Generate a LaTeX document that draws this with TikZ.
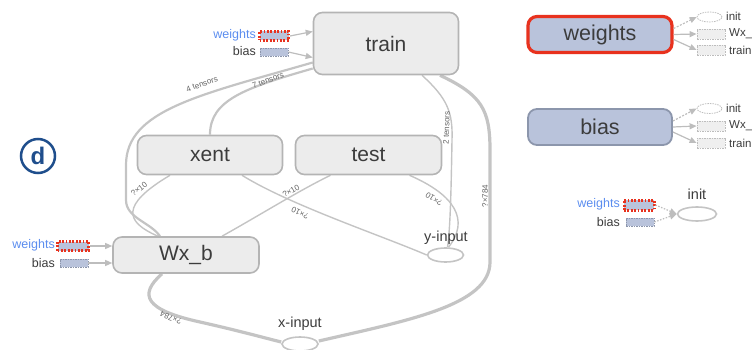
\documentclass[tikz,border=0pt]{standalone}
\usepackage{fontspec}
\setmainfont{Liberation Sans}
\usetikzlibrary{shapes.geometric,arrows.meta,backgrounds}
\definecolor{nodefill}{HTML}{ECECEC}
\definecolor{nodeline}{HTML}{B4B4B4}
\definecolor{edgec}{HTML}{C4C4C4}
\definecolor{txt}{HTML}{3C3C3C}
\definecolor{varfill}{HTML}{B9C3DB}
\definecolor{varline}{HTML}{8C96AC}
\definecolor{redc}{HTML}{E8321E}
\definecolor{bluetxt}{HTML}{5B8DEF}
\definecolor{dblue}{HTML}{1F4E8C}
\definecolor{ghost}{HTML}{BDBDBD}
\definecolor{ghostfill}{HTML}{EFEFEF}
\begin{document}
\begin{tikzpicture}[x=1pt,y=-1pt,
  opnode/.style={draw=nodeline, fill=nodefill, line width=1.6pt, rounded corners=9pt,
    text=txt, font=\fontsize{21}{24}\selectfont, inner sep=0pt},
  varnode/.style={fill=varfill, rounded corners=9pt, minimum width=144pt, minimum height=36pt,
    text=txt, font=\fontsize{21.5}{24}\selectfont, inner sep=0pt},
  ioell/.style={ellipse, draw=edgec, line width=1.6pt, fill=white, inner sep=0pt},
  iolabel/.style={text=txt, font=\fontsize{14.5}{16}\selectfont, inner sep=0pt},
  elabel/.style={text=txt!80, font=\fontsize{8}{9}\selectfont, inner sep=0pt},
  thinedge/.style={draw=edgec, line width=1.4pt},
  midedge/.style={draw=edgec, line width=2.2pt},
  thickedge/.style={draw=edgec, line width=3.2pt},
  redvar/.style={fill=varfill, draw=redc, line width=3pt, dash pattern=on 1.8pt off 1.6pt,
    minimum width=29pt, minimum height=9pt, inner sep=0pt},
  bluevar/.style={fill=varfill, draw=varline, line width=0.8pt, dash pattern=on 1.5pt off 1pt,
    minimum width=28pt, minimum height=8pt, inner sep=0pt},
  wtext/.style={text=bluetxt, font=\fontsize{12.5}{14}\selectfont, inner sep=0pt, anchor=east},
  btext/.style={text=txt, font=\fontsize{12.5}{14}\selectfont, inner sep=0pt, anchor=east},
  inarrow/.style={draw=ghost, line width=1.2pt, -{Triangle[length=7pt,width=6pt]}},
  smallrect/.style={draw=ghost, fill=ghostfill, line width=0.8pt, dash pattern=on 1.5pt off 1pt,
    minimum width=28pt, minimum height=10pt, inner sep=0pt},
  smallell/.style={ellipse, draw=ghost, line width=0.8pt, dash pattern=on 1.5pt off 1pt,
    minimum width=25pt, minimum height=10pt, inner sep=0pt},
  smalltext/.style={text=txt, font=\fontsize{11.5}{13}\selectfont, inner sep=0pt, anchor=west},
]
\useasboundingbox (0,0) rectangle (752,350);

% ---- main graph nodes ----
\node[opnode, minimum width=145pt, minimum height=62pt] (train) at (386,43.5) {train};
\node[opnode, minimum width=145pt, minimum height=39pt] (xent) at (210,155) {xent};
\node[opnode, minimum width=146pt, minimum height=39pt] (test) at (368.5,155) {test};
\node[opnode, minimum width=146pt, minimum height=36pt] (wxb) at (186,255) {Wx\_b};
\node[ioell, minimum width=36pt, minimum height=14pt] (yin) at (445.5,255) {};
\node[ioell, minimum width=36pt, minimum height=14pt] (xin) at (300,344) {};
\node[iolabel] (yinl) at (446,238) {y-input};
\node[iolabel] (xinl) at (300,324) {x-input};

% ---- edges behind the nodes ----
\begin{scope}[on background layer]
\draw[midedge] ([yshift=-19pt]train.west) .. controls (200,95) and (126,110) .. (126,165)
   -- (126,200) .. controls (126,218) and (150,222) .. ([xshift=-26pt]wxb.north);
\draw[midedge] ([yshift=-25pt]train.west) .. controls (245,88) and (210,100) .. (xent.north);
\draw[thinedge] ([xshift=-40pt]xent.south) .. controls (120,205) and (125,222) .. ([xshift=-28pt]wxb.north);
\draw[thinedge] ([xshift=36pt]wxb.north) .. controls (260,215) and (300,190) .. ([xshift=-38pt]test.south);
\draw[thinedge] ([xshift=32pt]xent.south) .. controls (290,205) and (380,235) .. (yin.west);
\draw[thinedge] ([xshift=41pt]test.south) .. controls (455,195) and (470,220) .. ([xshift=3pt]yin.north);
\draw[thinedge] ([xshift=36pt]train.south) .. controls (447,98) and (453,112) .. (452,140)
   .. controls (451,200) and (450,230) .. ([xshift=2pt]yin.north);
\draw[thickedge] ([xshift=54pt]train.south) .. controls (482,95) and (490,110) .. (490,150)
   -- (490,262) .. controls (490,305) and (410,320) .. ([yshift=3pt]xin.east);
\draw[thickedge] ([xshift=-24pt]wxb.south) .. controls (138,295) and (145,310) .. (200,322)
   .. controls (240,331) and (265,338) .. ([yshift=2pt]xin.west);
\end{scope}

% edge labels
\node[elabel, rotate=20] (l4t) at (202,84) {4 tensors};
\node[elabel, rotate=21] (l7t) at (268,80) {7 tensors};
\node[elabel, rotate=88] (l2t) at (446.5,128) {2 tensors};
\node[elabel, rotate=90] (l784r) at (485,196) {?×784};
\node[elabel, rotate=38] (l10a) at (139,189) {?×10};
\node[elabel, rotate=30] (l10b) at (291,191) {?×10};
\node[elabel, rotate=155] (l10c) at (300,213) {?×10};
\node[elabel, rotate=147] (l10d) at (434,199) {?×10};
\node[elabel, rotate=158] (l784l) at (171,318) {?×784};

% inputs to train
\node[redvar] (tw) at (274,36) {};
\node[bluevar] (tb) at (274,52) {};
\node[wtext] (twl) at (256,35.5) {weights};
\node[btext] (tbl) at (256,51.5) {bias};
\draw[inarrow] (tw.east) -- ([yshift=12pt]train.west);
\draw[inarrow] (tb.east) -- ([yshift=-14pt]train.west);

% inputs to Wx_b
\node[redvar, minimum width=31pt] (ww) at (73,246) {};
\node[bluevar] (wb) at (74,263) {};
\node[wtext] (wwl) at (55,245.5) {weights};
\node[btext] (wbl) at (55,263) {bias};
\draw[inarrow] (ww.east) -- ([yshift=9pt]wxb.west);
\draw[inarrow] (wb.east) -- ([yshift=-8pt]wxb.west);

% d marker
\node[circle, draw=dblue, line width=2.5pt, minimum size=34pt, inner sep=0pt, text=dblue,
  font=\fontsize{24}{24}\selectfont\bfseries] (dmark) at (38,156) {d};

% right: weights variable
\node[varnode, draw=redc, line width=3.2pt] (wvar) at (600,34.5) {weights};
\node[smallell] (wvi) at (709.5,17) {};
\node[smallrect] (wvw) at (711,34) {};
\node[smallrect] (wvt) at (711,50) {};
\node[smalltext] (wvil) at (726,16.5) {init};
\node[smalltext] (wvwl) at (729,34) {Wx\_};
\node[smalltext] (wvtl) at (729,50) {train};
\draw[inarrow, dash pattern=on 2pt off 1.5pt] ([yshift=6pt]wvar.east) -- (wvi.west);
\draw[inarrow] (wvar.east) -- (wvw.west);
\draw[inarrow] ([yshift=-5pt]wvar.east) -- (wvt.west);

% right: bias variable
\node[varnode, draw=varline, line width=1.8pt] (bvar) at (600,127) {bias};
\node[smallell] (bvi) at (709.5,108.5) {};
\node[smallrect] (bvw) at (711,126) {};
\node[smallrect] (bvt) at (711,143) {};
\node[smalltext] (bvil) at (726,108) {init};
\node[smalltext] (bvwl) at (729,126) {Wx\_};
\node[smalltext] (bvtl) at (729,143) {train};
\draw[inarrow, dash pattern=on 2pt off 1.5pt] ([yshift=6pt]bvar.east) -- (bvi.west);
\draw[inarrow] (bvar.east) -- (bvw.west);
\draw[inarrow] ([yshift=-5pt]bvar.east) -- (bvt.west);

% right: init
\node[ioell, minimum width=39pt, minimum height=14pt] (init) at (697,214) {};
\node[iolabel] (initl) at (697,194) {init};
\node[redvar, minimum width=30pt, minimum height=10pt] (iw) at (639,205) {};
\node[bluevar] (ib) at (640,222) {};
\node[wtext] (iwl) at (620,204.5) {weights};
\node[btext] (ibl) at (620,222) {bias};
\draw[inarrow, dash pattern=on 1.5pt off 1.5pt] (iw.east) -- (init.west);
\draw[inarrow, dash pattern=on 1.5pt off 1.5pt] (ib.east) -- (init.west);
\end{tikzpicture}
\end{document}
